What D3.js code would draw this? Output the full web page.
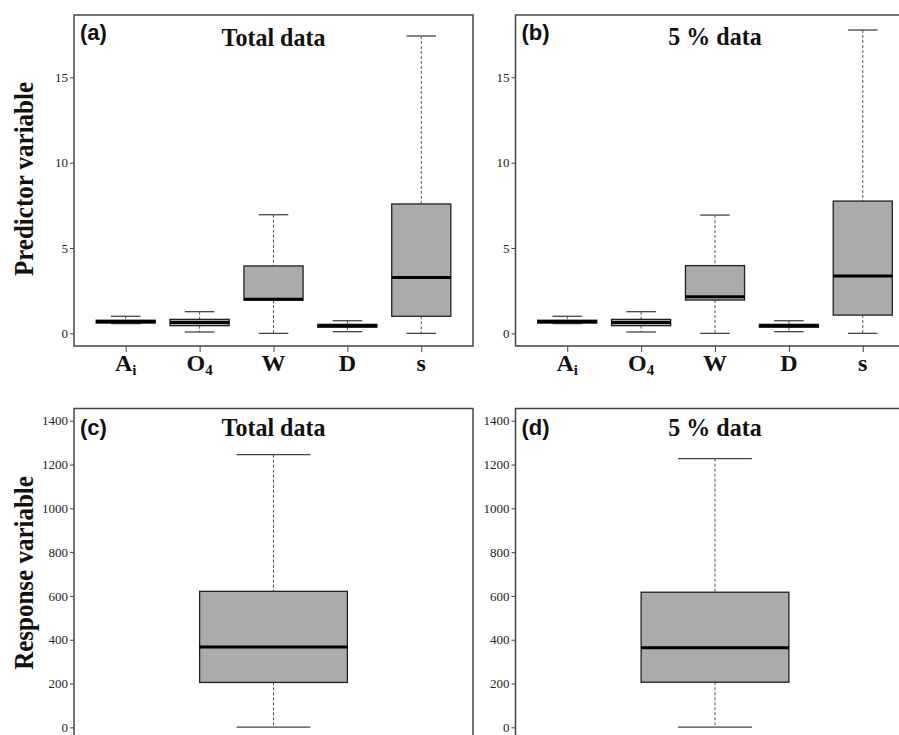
<!DOCTYPE html>
<html>
<head>
<meta charset="utf-8">
<script src="https://cdn.jsdelivr.net/npm/d3@7"></script>
<style>
  html, body { margin: 0; padding: 0; background: #fff; }
  svg { display: block; }
</style>
</head>
<body>
<svg id="chart" width="899" height="735"></svg>
<script>
// ---------------- data ----------------
const categories = ["A", "O", "W", "D", "s"];
const categorySubs = ["i", "4", "", "", ""];

// Predictor variables, total data (a)
const predTotalMin = [0.57, 0.08, 0.00, 0.10, 0.00];
const predTotalQ1  = [0.60, 0.45, 1.95, 0.36, 1.00];
const predTotalMed = [0.70, 0.64, 2.00, 0.45, 3.28];
const predTotalQ3  = [0.77, 0.82, 3.95, 0.53, 7.58];
const predTotalMax = [1.00, 1.27, 6.95, 0.74, 17.42];

// Predictor variables, 5% data (b)
const predSubMin = [0.57, 0.08, 0.00, 0.10, 0.00];
const predSubQ1  = [0.60, 0.45, 1.95, 0.36, 1.07];
const predSubMed = [0.70, 0.64, 2.14, 0.45, 3.36];
const predSubQ3  = [0.77, 0.82, 3.97, 0.53, 7.75];
const predSubMax = [1.00, 1.27, 6.93, 0.74, 17.77];

// Response variable: [min, q1, median, q3, max]
const respTotal = [1, 205, 367, 621, 1245];
const respSub   = [1, 206, 364, 617, 1227];

const predTicks = [0, 5, 10, 15];
const respTicks = [0, 200, 400, 600, 800, 1000, 1200, 1400];

// ---------------- drawing ----------------
const svg = d3.select("#chart");
const frameColor = "#444";
const boxFill = "#ababab";

function drawPanel(p) {
  const g = svg.append("g");
  const x = d3.scaleLinear().domain(p.xDomain).range([p.left, p.right]);
  const y = d3.scaleLinear().domain(p.yDomain).range([p.bottom, p.top]);

  // boxes
  p.stats.forEach((s, i) => {
    const cx = x(i + 1);
    const hw = x(p.boxHalf) - x(0);
    const cw = x(p.capHalf) - x(0);
    // whiskers (dashed)
    g.append("line").attr("x1", cx).attr("x2", cx).attr("y1", y(s.max)).attr("y2", y(s.q3))
      .attr("stroke", "#555").attr("stroke-width", 1).attr("stroke-dasharray", "3,2");
    g.append("line").attr("x1", cx).attr("x2", cx).attr("y1", y(s.q1)).attr("y2", y(s.min))
      .attr("stroke", "#555").attr("stroke-width", 1).attr("stroke-dasharray", "3,2");
    // caps
    [s.max, s.min].forEach(v => {
      g.append("line").attr("x1", cx - cw).attr("x2", cx + cw).attr("y1", y(v)).attr("y2", y(v))
        .attr("stroke", "#444").attr("stroke-width", 1.3);
    });
    // box
    g.append("rect").attr("x", cx - hw).attr("y", y(s.q3))
      .attr("width", 2 * hw).attr("height", Math.max(0.5, y(s.q1) - y(s.q3)))
      .attr("fill", boxFill).attr("stroke", "#222").attr("stroke-width", 1.3);
    // median
    g.append("line").attr("x1", cx - hw).attr("x2", cx + hw).attr("y1", y(s.med)).attr("y2", y(s.med))
      .attr("stroke", "#000").attr("stroke-width", 3);
  });

  // frame
  g.append("rect").attr("x", p.left).attr("y", p.top)
    .attr("width", p.right - p.left).attr("height", p.bottom - p.top)
    .attr("fill", "none").attr("stroke", frameColor).attr("stroke-width", 1.5);

  // y axis
  const yAxis = d3.axisLeft(y).tickValues(p.yTicks).tickSize(4).tickPadding(2).tickFormat(d3.format("d"));
  const ya = g.append("g").attr("transform", `translate(${p.left},0)`).call(yAxis);
  ya.select(".domain").remove();
  ya.selectAll("line").attr("stroke", frameColor);
  ya.selectAll("text").attr("font-family", "'Liberation Serif', 'Times New Roman', serif")
    .attr("font-size", 13).attr("fill", "#222");

  // x axis (categorical ticks)
  if (p.showX) {
    const xAxis = d3.axisBottom(x).tickValues(d3.range(1, categories.length + 1)).tickSize(6).tickFormat("");
    const xa = g.append("g").attr("transform", `translate(0,${p.bottom})`).call(xAxis);
    xa.select(".domain").remove();
    xa.selectAll("line").attr("stroke", frameColor);
    categories.forEach((c, i) => {
      const t = g.append("text").attr("x", x(i + 1)).attr("y", 371)
        .attr("text-anchor", "middle")
        .attr("font-family", "'Liberation Serif', 'Times New Roman', serif")
        .attr("font-weight", "bold").attr("font-size", 24).attr("fill", "#111");
      t.append("tspan").text(c);
      if (categorySubs[i]) {
        t.append("tspan").text(categorySubs[i]).attr("font-size", 15).attr("dy", 4);
      }
    });
  }

  // panel letter
  g.append("text").attr("x", p.left + 6).attr("y", p.top + p.letterOff)
    .attr("font-family", "'Liberation Sans', Arial, sans-serif").attr("font-weight", "bold")
    .attr("font-size", 22).attr("fill", "#111").text(p.letter);

  // title
  const tcx = (p.left + p.right) / 2;
  g.append("text").attr("transform", `translate(${tcx},${p.top + p.titleOff}) scale(1,1.08)`)
    .attr("text-anchor", "middle")
    .attr("font-family", "'Liberation Serif', 'Times New Roman', serif").attr("font-weight", "bold")
    .attr("font-size", 24).attr("fill", "#111").attr("xml:space", "preserve").text(p.title);
}

function statsOf(mn, q1, md, q3, mx) {
  return mn.map((_, i) => ({ min: mn[i], q1: q1[i], med: md[i], q3: q3[i], max: mx[i] }));
}

const predDomain = [-0.74, 18.65];
const respDomain = [-56, 1456];

drawPanel({
  left: 74, right: 473, top: 15, bottom: 346,
  xDomain: [0.3, 5.7], yDomain: predDomain, yTicks: predTicks,
  boxHalf: 0.4, capHalf: 0.2, showX: true,
  stats: statsOf(predTotalMin, predTotalQ1, predTotalMed, predTotalQ3, predTotalMax),
  letter: "(a)", letterOff: 25, title: "Total data", titleOff: 31
});
drawPanel({
  left: 515.5, right: 914.5, top: 15, bottom: 346,
  xDomain: [0.3, 5.7], yDomain: predDomain, yTicks: predTicks,
  boxHalf: 0.4, capHalf: 0.2, showX: true,
  stats: statsOf(predSubMin, predSubQ1, predSubMed, predSubQ3, predSubMax),
  letter: "(b)", letterOff: 25, title: "5 % data", titleOff: 30
});
drawPanel({
  left: 74, right: 473, top: 408.5, bottom: 739.6,
  xDomain: [0.46, 1.54], yDomain: respDomain, yTicks: respTicks,
  boxHalf: 0.2, capHalf: 0.1, showX: false,
  stats: [{ min: respTotal[0], q1: respTotal[1], med: respTotal[2], q3: respTotal[3], max: respTotal[4] }],
  letter: "(c)", letterOff: 26, title: "Total data", titleOff: 27.5
});
drawPanel({
  left: 515.5, right: 914.5, top: 408.5, bottom: 739.6,
  xDomain: [0.46, 1.54], yDomain: respDomain, yTicks: respTicks,
  boxHalf: 0.2, capHalf: 0.1, showX: false,
  stats: [{ min: respSub[0], q1: respSub[1], med: respSub[2], q3: respSub[3], max: respSub[4] }],
  letter: "(d)", letterOff: 26, title: "5 % data", titleOff: 27
});

// axis titles
svg.append("text").attr("transform", "translate(33,179) rotate(-90) scale(1,1.05)")
  .attr("text-anchor", "middle")
  .attr("font-family", "'Liberation Serif', 'Times New Roman', serif").attr("font-weight", "bold")
  .attr("font-size", 25).attr("fill", "#111").text("Predictor variable");
svg.append("text").attr("transform", "translate(33,573) rotate(-90) scale(1,1.05)")
  .attr("text-anchor", "middle")
  .attr("font-family", "'Liberation Serif', 'Times New Roman', serif").attr("font-weight", "bold")
  .attr("font-size", 25).attr("fill", "#111").text("Response variable");
</script>
</body>
</html>
